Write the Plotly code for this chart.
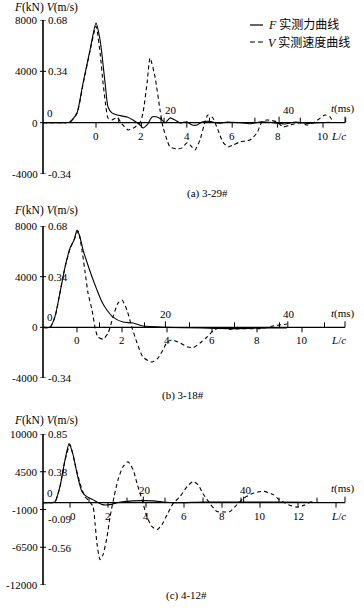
import plotly.graph_objects as go

W, H = 364, 613
K = 0.000085  # m/s per kN on the shared vertical scale

# ---------------- Panel (a) 3-29# ----------------
a_lc_F = [-2.33, -1.5, -1.15, -0.84, -0.57, -0.26, 0, 0.18, 0.40, 0.53,
          0.70, 0.93, 1.37, 1.63, 1.94, 2.07, 2.25, 2.47, 2.69, 2.91,
          3.04, 3.26, 3.48, 3.70, 4.0, 4.23, 4.45, 4.67, 5.0, 5.4,
          5.8, 6.3, 6.8, 7.3, 7.8, 8.3, 8.8, 9.3, 9.8, 10.3]
a_F = [0, 0, 50, 760, 3090, 5700, 7760, 6440, 3090, 1220,
       760, 600, 440, 210, -180, -410, -180, 440, 440, 210,
       -20, 370, 210, -20, 60, -180, -180, 60, 100, -50,
       50, 0, -80, 60, 0, -100, 50, -60, 0, 30]
a_lc_V = [-2.33, -1.5, -1.15, -0.84, -0.57, -0.26, 0, 0.18, 0.31, 0.44,
          0.53, 0.70, 0.93, 1.15, 1.41, 1.63, 1.94, 2.07, 2.25, 2.38,
          2.60, 2.82, 2.95, 3.13, 3.26, 3.57, 3.79, 4.01, 4.23, 4.36,
          4.58, 4.80, 4.93, 5.15, 5.37, 5.59, 5.81, 6.04, 6.34, 6.78,
          7.09, 7.31, 7.53, 7.97, 8.24, 8.55, 8.99, 9.30, 9.65, 10.09,
          10.31, 10.44]
a_V = [0, 0, 0.004, 0.060, 0.255, 0.476, 0.638, 0.462, 0.263, 0.102,
       0.031, 0.018, 0.034, -0.009, -0.048, -0.038, 0, 0.065, 0.263, 0.428,
       0.303, 0.084, -0.028, -0.115, -0.161, -0.174, -0.167, -0.134, -0.161, -0.181,
       -0.115, 0.005, 0.051, 0.031, -0.048, -0.128, -0.161, -0.148, -0.128, -0.115,
       -0.068, 0.005, 0.018, 0.005, -0.028, -0.015, -0.002, -0.015, 0.005, 0.051,
       0.038, 0]

# ---------------- Panel (b) 3-18# ----------------
b_lc_F = [-1.51, -1.2, -0.98, -0.76, -0.53, -0.31, -0.13, 0, 0.13, 0.27,
          0.44, 0.67, 0.89, 1.11, 1.33, 1.6, 2.04, 2.49, 2.93, 4.0,
          5.5, 7.0, 8.5, 9.33]
b_F = [0, 0, 840, 2700, 4770, 6260, 6890, 7680, 7130, 6100,
       5160, 3970, 2940, 2000, 1370, 810, 420, 340, 100, 0,
       -50, -100, -50, -50]
b_lc_V = [-1.51, -1.2, -0.98, -0.76, -0.53, -0.31, -0.13, 0.05, 0.22, 0.36,
          0.49, 0.67, 0.80, 0.93, 1.16, 1.38, 1.6, 1.82, 2.0, 2.22,
          2.44, 2.67, 2.93, 3.33, 3.6, 3.82, 4.0, 4.22, 4.58, 4.93,
          5.16, 5.47, 5.78, 6.04, 6.36, 6.8, 7.24, 8.13, 8.71, 9.33]
b_V = [0, 0, 0.068, 0.230, 0.405, 0.527, 0.587, 0.646, 0.519, 0.371,
       0.230, 0.116, 0, -0.065, -0.079, -0.039, 0.069, 0.162, 0.183, 0.116,
       0, -0.105, -0.199, -0.233, -0.206, -0.152, -0.099, -0.085, -0.105, -0.132,
       -0.136, -0.105, -0.065, -0.025, 0, -0.013, -0.009, -0.009, 0.009, 0.022]

# ---------------- Panel (c) 4-12# ----------------
c_lc_F = [-1.42, -1.0, -0.79, -0.53, -0.26, -0.05, 0.16, 0.37, 0.63, 0.89,
          1.2, 1.7, 2.1, 2.5, 3.3, 4.4, 4.9, 5.5, 7.0, 9.0,
          11.0, 12.8]
c_F = [0, 0, 100, 2330, 6260, 8600, 6990, 4230, 1600, 870,
       440, -290, -290, 0, 250, 250, 100, 0, 80, 100,
       80, 50]
c_lc_V = [-1.42, -1.0, -0.79, -0.53, -0.26, 0, 0.26, 0.53, 0.79, 0.95,
          1.21, 1.32, 1.42, 1.58, 1.74, 1.95, 2.11, 2.32, 2.53, 2.79,
          3.05, 3.32, 3.53, 3.79, 4.05, 4.32, 4.58, 4.84, 5.11, 5.42,
          5.79, 6.16, 6.47, 6.74, 7.0, 7.37, 7.74, 8.05, 8.42, 8.79,
          9.11, 9.58, 10.2, 10.7, 11.0, 11.5, 11.9, 12.3, 12.8]
c_V = [0, 0, 0.009, 0.196, 0.527, 0.718, 0.483, 0.235, 0.074, 0.034,
       -0.049, -0.260, -0.507, -0.706, -0.644, -0.421, -0.173, 0.074, 0.285, 0.445,
       0.507, 0.409, 0.235, 0.037, -0.173, -0.298, -0.334, -0.272, -0.149, -0.013,
       0.074, 0.198, 0.260, 0.223, 0.111, -0.013, -0.111, -0.115, -0.111, -0.025,
       0.049, 0.111, 0.140, 0.099, 0.037, -0.025, -0.055, -0.034, 0.026]

# tick labels
ab_F_ticks = [8000, 4000, 0, -4000]
ab_V_ticks = [0.68, 0.34, None, -0.34]
c_F_ticks = [10000, 4500, -1000, -6500, -12000]
c_V_ticks = [0.85, 0.38, -0.09, -0.56, -1.03]
t_ticks = [20, 40]

captions = ["(a) 3-29#", "(b) 3-18#", "(c) 4-12#"]

# layout geometry (pixels) for each panel
panels = [
    dict(lcF=a_lc_F, F=a_F, lcV=a_lc_V, V=a_V, x0=96, ppl=22.7, ytop=20, ybot=174,
         Fmax=8000, Fmin=-4000, Fticks=ab_F_ticks, Vticks=ab_V_ticks, lcmax=11,
         lc_per_20ms=5.2, tshift=10, lab_max=10, cap=captions[0], capx=207, capy=193, head=7),
    dict(lcF=b_lc_F, F=b_F, lcV=b_lc_V, V=b_V, x0=77, ppl=22.5, ytop=226, ybot=378,
         Fmax=8000, Fmin=-4000, Fticks=ab_F_ticks, Vticks=ab_V_ticks, lcmax=11,
         lc_per_20ms=5.44, tshift=1, lab_max=10, cap=captions[1], capx=183, capy=395, head=211),
    dict(lcF=c_lc_F, F=c_F, lcV=c_lc_V, V=c_V, x0=70, ppl=19.0, ytop=434, ybot=585,
         Fmax=10000, Fmin=-12000, Fticks=c_F_ticks, Vticks=c_V_ticks, lcmax=14,
         lc_per_20ms=5.28, tshift=2, lab_max=12, cap=captions[2], capx=186, capy=595, head=420),
]

AX_X = 43     # vertical axis position (px)
AX_END = 345  # end of horizontal axis (px)

FONT = "Liberation Serif, Times New Roman, Noto Sans CJK SC, serif"
CJK = "Liberation Serif, Noto Sans CJK SC, serif"

fig = go.Figure()
shapes, annos = [], []
layout_axes = {}

for i, p in enumerate(panels):
    n = i + 1
    xa = "x" if n == 1 else f"x{n}"
    ya = "y" if n == 1 else f"y{n}"
    va = f"y{n+3}"
    xr = [(0 - p["x0"]) / p["ppl"], (W - p["x0"]) / p["ppl"]]
    dom = [1 - p["ybot"] / H, 1 - p["ytop"] / H]
    layout_axes["xaxis" if n == 1 else f"xaxis{n}"] = dict(
        domain=[0, 1], range=xr, visible=False, anchor=ya, fixedrange=True)
    layout_axes["yaxis" if n == 1 else f"yaxis{n}"] = dict(
        domain=dom, range=[p["Fmin"], p["Fmax"]], visible=False, anchor=xa)
    layout_axes[f"yaxis{n+3}"] = dict(
        overlaying=ya, range=[p["Fmin"] * K, p["Fmax"] * K], visible=False, anchor=xa)

    fig.add_trace(go.Scatter(x=p["lcF"], y=p["F"], xaxis=xa, yaxis=ya, mode="lines",
                             line=dict(color="black", width=1.1, shape="spline", smoothing=0.6),
                             showlegend=False, hoverinfo="skip"))
    fig.add_trace(go.Scatter(x=p["lcV"], y=p["V"], xaxis=xa, yaxis=va, mode="lines",
                             line=dict(color="black", width=1.1, dash="4px,3px",
                                       shape="spline", smoothing=0.6),
                             showlegend=False, hoverinfo="skip"))

    ax_lc = (AX_X - p["x0"]) / p["ppl"]
    end_lc = (AX_END - p["x0"]) / p["ppl"]
    # vertical axis
    shapes.append(dict(type="line", xref=xa, yref=ya, x0=ax_lc, x1=ax_lc,
                       y0=p["Fmin"], y1=p["Fmax"], line=dict(color="black", width=1.6)))
    # horizontal axis
    shapes.append(dict(type="line", xref=xa, yref=ya, x0=ax_lc, x1=end_lc,
                       y0=0, y1=0, line=dict(color="black", width=1.3)))
    # end tick
    shapes.append(dict(type="line", xref=xa, yref=ya, xsizemode="pixel", xanchor=end_lc,
                       x0=0, x1=0, ysizemode="pixel", yanchor=0, y0=0, y1=6,
                       line=dict(color="black", width=1)))
    # vertical ticks + labels
    for fv, vv in zip(p["Fticks"], p["Vticks"]):
        shapes.append(dict(type="line", xref=xa, yref=ya, xsizemode="pixel", xanchor=ax_lc,
                           x0=-3, x1=3, y0=fv, y1=fv, line=dict(color="black", width=1)))
        annos.append(dict(xref="paper", yref=ya, x=(AX_X - 3) / W, y=fv, text=str(fv),
                          xanchor="right", yanchor="middle", showarrow=False,
                          font=dict(family=FONT, size=11, color="black")))
        if vv is not None:
            ysh = -9 if (n == 3 and fv == -1000) else 0
            annos.append(dict(xref="paper", yref=va, x=(AX_X + 3) / W, y=vv,
                              text=f"{vv:.2f}", xanchor="left", yanchor="middle",
                              showarrow=False, yshift=ysh,
                              font=dict(family=FONT, size=11, color="black")))
    # L/c ticks: even down, odd up
    for k in range(0, p["lcmax"] + 1):
        if k % 2 == 0:
            y0, y1 = -5, 0
        else:
            y0, y1 = 0, 5
        shapes.append(dict(type="line", xref=xa, yref=ya, x0=k, x1=k, ysizemode="pixel",
                           yanchor=0, y0=y0, y1=y1, line=dict(color="black", width=1)))
        if k % 2 == 0 and k <= p["lab_max"]:
            xsh = 3 if (n == 3 and k == 0) else 0
            annos.append(dict(xref=xa, yref=ya, x=k, y=0, text=str(k), yshift=-13, xshift=xsh,
                              xanchor="center", yanchor="middle", showarrow=False,
                              font=dict(family=FONT, size=11, color="black")))
    annos.append(dict(xref="paper", yref=ya, x=338 / W, y=0, text="<i>L</i>/<i>c</i>",
                      yshift=-13, xanchor="center", yanchor="middle", showarrow=False,
                      font=dict(family=FONT, size=11, color="black")))
    # t (ms) scale above the axis
    annos.append(dict(xref=xa, yref=ya, x=ax_lc, y=0, text="0", xshift=2, yshift=10,
                      xanchor="left", yanchor="middle", showarrow=False,
                      font=dict(family=FONT, size=11, color="black")))
    for tv in t_ticks:
        tlc = ax_lc + tv / 20 * p["lc_per_20ms"]
        shapes.append(dict(type="line", xref=xa, yref=ya, x0=tlc, x1=tlc, ysizemode="pixel",
                           yanchor=0, y0=0, y1=6, line=dict(color="black", width=1)))
        annos.append(dict(xref=xa, yref=ya, x=tlc, y=0, text=str(tv), xshift=p["tshift"],
                          yshift=13, xanchor="center", yanchor="middle", showarrow=False,
                          font=dict(family=FONT, size=11, color="black")))
    annos.append(dict(xref="paper", yref=ya, x=357 / W, y=0, text="<i>t</i>(ms)",
                      yshift=14, xanchor="right", yanchor="middle", showarrow=False,
                      font=dict(family=FONT, size=11, color="black")))
    # header
    annos.append(dict(xref="paper", yref="paper", x=12 / W, y=1 - p["head"] / H,
                      text="<i>F</i>(kN) <i>V</i>(m/s)", xanchor="left", yanchor="middle",
                      showarrow=False, font=dict(family=FONT, size=11.5, color="black")))
    # caption
    annos.append(dict(xref="paper", yref="paper", x=p["capx"] / W, y=1 - p["capy"] / H,
                      text=p["cap"], xanchor="center", yanchor="middle", showarrow=False,
                      font=dict(family=FONT, size=11, color="black")))

# legend (panel a)
shapes.append(dict(type="line", xref="paper", yref="paper", x0=250 / W, x1=263 / W,
                   y0=1 - 25 / H, y1=1 - 25 / H, line=dict(color="black", width=1.2)))
shapes.append(dict(type="line", xref="paper", yref="paper", x0=250 / W, x1=263 / W,
                   y0=1 - 42 / H, y1=1 - 42 / H, line=dict(color="black", width=1.2, dash="5px,3px")))
annos.append(dict(xref="paper", yref="paper", x=266 / W, y=1 - 25 / H,
                  text="<i>F</i> 实测力曲线", xanchor="left", yanchor="middle", showarrow=False,
                  font=dict(family=CJK, size=12, color="black")))
annos.append(dict(xref="paper", yref="paper", x=266 / W, y=1 - 42 / H,
                  text="<i>V</i> 实测速度曲线", xanchor="left", yanchor="middle", showarrow=False,
                  font=dict(family=CJK, size=12, color="black")))

fig.update_layout(width=W, height=H, margin=dict(l=0, r=0, t=0, b=0),
                  paper_bgcolor="white", plot_bgcolor="white",
                  shapes=shapes, annotations=annos, showlegend=False, **layout_axes)

fig.write_html("out.html", config={"displayModeBar": False},
               post_script="document.body.style.margin='0';document.body.style.padding='0';")
